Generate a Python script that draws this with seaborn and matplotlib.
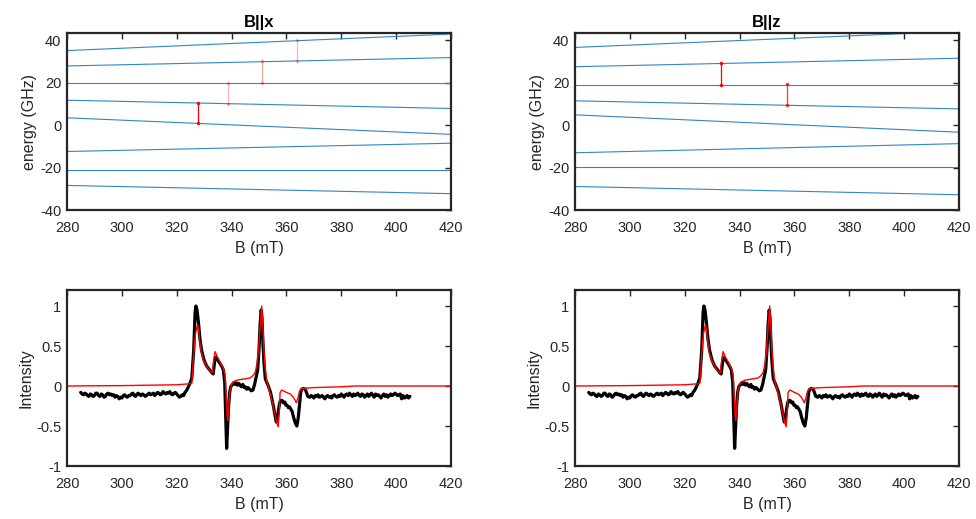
import numpy as np
import pandas as pd
import matplotlib
matplotlib.use("Agg")
import matplotlib.pyplot as plt
import seaborn as sns

# ---------------- data ----------------
B_ends = [280, 420]
# energy levels (GHz) at B = 280 and 420 mT
levels_x = [[35.2, 43.0], [27.95, 31.9], [20.1, 20.1], [11.8, 7.9],
            [3.5, -4.3], [-12.4, -8.5], [-20.9, -20.9], [-28.4, -32.3]]
levels_z = [[36.7, 44.3], [27.6, 31.6], [19.2, 19.2], [11.5, 7.7],
            [4.9, -3.3], [-13.0, -8.7], [-19.8, -19.8], [-28.9, -32.8]]
# transitions: field, lower, upper, alpha
trans_x_B = [327.8, 338.8, 351.1, 363.9]
trans_x_lo = [0.9, 10.1, 20.1, 30.1]
trans_x_hi = [10.7, 20.1, 30.1, 40.2]
trans_x_alpha = [1.0, 0.3, 0.35, 0.3]
trans_z_B = [333.4, 357.4]
trans_z_lo = [19.2, 9.5]
trans_z_hi = [29.2, 19.3]
trans_z_alpha = [1.0, 0.8]

# experimental spectrum
exp_left_vals = [-0.08, -0.10, -0.11, -0.09, -0.10, -0.12, -0.13, -0.10, -0.11, -0.13,
                 -0.12, -0.09, -0.09, -0.12, -0.13, -0.10, -0.11, -0.14, -0.13, -0.10,
                 -0.09, -0.11, -0.10, -0.12, -0.11, -0.14, -0.12, -0.13, -0.16, -0.14,
                 -0.15, -0.12, -0.11, -0.13, -0.14, -0.12, -0.12, -0.10, -0.09, -0.12,
                 -0.13, -0.10, -0.09, -0.11, -0.12, -0.10, -0.11, -0.13, -0.12, -0.10,
                 -0.09, -0.11, -0.10, -0.09, -0.12, -0.10, -0.08, -0.09, -0.11, -0.10,
                 -0.07, -0.09, -0.10, -0.08, -0.09, -0.07, -0.10, -0.11, -0.09, -0.08,
                 -0.10, -0.12, -0.14, -0.13, -0.11, -0.12, -0.08, -0.06, -0.03]
exp_left_B = np.arange(285, 324.01, 0.5)
exp_mid_B = [325.0, 325.5, 326.2, 326.7, 327.0, 327.4, 327.9, 328.5, 329.1, 330.0,
             330.9, 331.8, 332.7, 333.3, 333.8, 334.1, 334.6, 335.2, 335.8, 336.5,
             337.0, 337.5, 337.9, 338.2, 338.5, 338.9, 339.3, 339.7, 340.3, 340.8,
             341.2, 341.7, 342.2, 342.7, 343.1, 343.6, 344.1, 344.6, 345.0, 345.5,
             346.0, 346.6, 347.2, 347.8, 348.4, 349.0, 349.5, 350.0, 350.4, 350.8,
             351.1, 351.4, 351.8, 352.3, 352.9, 353.5, 354.2, 354.8, 355.3, 355.8,
             356.3, 356.7, 357.1, 357.6, 358.0, 358.4, 358.9, 359.4, 359.8, 360.2,
             360.7, 361.1, 361.6, 362.1, 362.6, 363.2, 363.8, 364.3, 364.8, 365.2,
             365.6, 366.2, 366.8, 367.3, 367.8]
exp_mid_vals = [0.05, 0.10, 0.45, 0.92, 1.0, 0.95, 0.80, 0.58, 0.44, 0.32,
                0.25, 0.21, 0.17, 0.15, 0.30, 0.36, 0.34, 0.31, 0.28, 0.24,
                0.20, 0.05, -0.45, -0.78, -0.55, -0.26, -0.08, -0.01, 0.02, 0.04,
                0.02, 0.04, 0.01, 0.03, 0.01, -0.01, 0.02, -0.02, -0.01, -0.04,
                -0.02, -0.04, -0.06, -0.05, 0.02, 0.12, 0.20, 0.45, 0.77, 0.95,
                0.85, 0.57, 0.30, 0.09, 0.04, -0.01, -0.08, -0.18, -0.26, -0.36,
                -0.45, -0.42, -0.30, -0.20, -0.18, -0.18, -0.21, -0.20, -0.24, -0.24,
                -0.27, -0.26, -0.29, -0.32, -0.39, -0.46, -0.50, -0.40, -0.22, -0.08,
                -0.04, -0.03, -0.04, -0.08, -0.13]
exp_right_B = np.arange(368.5, 405.01, 0.5)
exp_right_vals = [-0.14, -0.12, -0.13, -0.15, -0.12, -0.13, -0.11, -0.14, -0.13, -0.12,
                  -0.14, -0.16, -0.13, -0.12, -0.14, -0.13, -0.15, -0.12, -0.11, -0.13,
                  -0.14, -0.12, -0.13, -0.10, -0.12, -0.14, -0.11, -0.10, -0.12, -0.09,
                  -0.11, -0.13, -0.10, -0.12, -0.11, -0.09, -0.12, -0.13, -0.10, -0.11,
                  -0.14, -0.12, -0.10, -0.13, -0.11, -0.09, -0.12, -0.14, -0.10, -0.12,
                  -0.11, -0.13, -0.15, -0.12, -0.10, -0.13, -0.11, -0.14, -0.12, -0.10,
                  -0.12, -0.11, -0.09, -0.10, -0.12, -0.11, -0.10, -0.16, -0.12, -0.15,
                  -0.14, -0.12, -0.15, -0.13]

# simulated spectrum
sim_B = [280, 300, 320, 325.5, 326.1, 326.8, 327.6, 328.1, 328.6, 329.2,
         329.8, 330.7, 331.6, 332.3, 333.0, 333.5, 334.0, 334.6, 335.2, 336.0,
         337.0, 337.6, 338.0, 338.4, 338.6, 338.9, 339.4, 340.0, 340.6, 341.8,
         343.1, 345.0, 346.7, 347.8, 348.6, 349.3, 349.8, 350.4, 351.0, 351.4,
         351.8, 352.3, 352.8, 353.7, 354.7, 355.6, 356.4, 357.0, 357.4, 357.7,
         358.3, 358.9, 360.0, 361.4, 362.5, 363.2, 363.6, 364.1, 364.8, 365.6,
         370, 380, 385, 420]
sim_I = [0.0, 0.005, 0.015, 0.03, 0.36, 0.65, 0.77, 0.65, 0.49, 0.38,
         0.32, 0.26, 0.21, 0.18, 0.17, 0.33, 0.43, 0.38, 0.34, 0.29,
         0.22, 0.15, -0.10, -0.38, -0.43, -0.30, -0.06, 0.02, 0.05, 0.07,
         0.08, 0.09, 0.10, 0.13, 0.17, 0.28, 0.44, 0.75, 1.0, 0.75,
         0.44, 0.20, 0.07, -0.05, -0.18, -0.32, -0.45, -0.51, -0.30, -0.08,
         -0.05, -0.06, -0.08, -0.10, -0.14, -0.18, -0.21, -0.16, -0.06, -0.03,
         -0.02, -0.01, 0.0, 0.0]

titles = ["B||x", "B||z"]
xticks = [280, 300, 320, 340, 360, 380, 400, 420]

# ---------------- style ----------------
sns.set_theme(style="white")
plt.rcParams["font.family"] = ["Liberation Sans", "DejaVu Sans"]
plt.rcParams["axes.unicode_minus"] = False
DARK = "#262626"
BLUE = "#2f86c9"

fig = plt.figure(figsize=(9.76, 5.19), dpi=100)
lefts = [67 / 976, 575 / 976]
w = 384 / 976
top_b, top_h = 1 - 210 / 519, 177 / 519
bot_b, bot_h = 1 - 466 / 519, 176 / 519


def style(ax):
    for s in ax.spines.values():
        s.set_color(DARK)
        s.set_linewidth(1.6)
        s.set_visible(True)
    ax.tick_params(direction="in", top=True, right=True, length=4, width=1,
                   color=DARK, labelcolor=DARK, labelsize=10.5)
    ax.tick_params(axis="x", pad=8)
    ax.tick_params(axis="y", pad=4)
    ax.set_xlim(280, 420)
    ax.set_xticks(xticks)
    ax.set_xlabel("B (mT)", fontsize=11.5, color=DARK, labelpad=4)


exp_B = np.concatenate([exp_left_B, exp_mid_B, exp_right_B])
exp_I = np.concatenate([exp_left_vals, exp_mid_vals, exp_right_vals])

panels = [(levels_x, trans_x_B, trans_x_lo, trans_x_hi, trans_x_alpha),
          (levels_z, trans_z_B, trans_z_lo, trans_z_hi, trans_z_alpha)]

for i, (levels, tB, tlo, thi, tal) in enumerate(panels):
    ax = fig.add_axes([lefts[i], top_b, w, top_h])
    rows = []
    for k, lv in enumerate(levels):
        for b, e in zip(B_ends, lv):
            rows.append({"B": b, "E": e, "level": k})
    df = pd.DataFrame(rows)
    sns.lineplot(data=df, x="B", y="E", units="level", estimator=None,
                 color=BLUE, linewidth=0.8, ax=ax)
    for b, lo, hi, a in zip(tB, tlo, thi, tal):
        tdf = pd.DataFrame({"B": [b, b], "E": [lo, hi]})
        sns.lineplot(data=tdf, x="B", y="E", estimator=None, sort=False,
                     color="red", alpha=a, linewidth=0.9, marker="o",
                     markersize=2.5, markeredgewidth=0, ax=ax)
    ax.set_ylim(-40, 43.5)
    ax.set_yticks([-40, -20, 0, 20, 40])
    style(ax)
    ax.set_title(titles[i], fontsize=12, fontweight="bold", color="black", pad=4)
    ax.set_ylabel("energy (GHz)", fontsize=11.5, color=DARK, labelpad=2)

    ax2 = fig.add_axes([lefts[i], bot_b, w, bot_h])
    sns.lineplot(x=exp_B, y=exp_I, estimator=None, sort=False, color="black",
                 linewidth=2.3, ax=ax2)
    sns.lineplot(x=sim_B, y=sim_I, estimator=None, sort=False, color="red",
                 linewidth=1.0, ax=ax2)
    ax2.set_ylim(-1, 1.2)
    ax2.set_yticks([-1, -0.5, 0, 0.5, 1])
    ax2.set_yticklabels(["-1", "-0.5", "0", "0.5", "1"])
    style(ax2)
    ax2.set_ylabel("Intensity", fontsize=11.5, color=DARK, labelpad=2)

fig.savefig("out.png", dpi=100, facecolor="white")
